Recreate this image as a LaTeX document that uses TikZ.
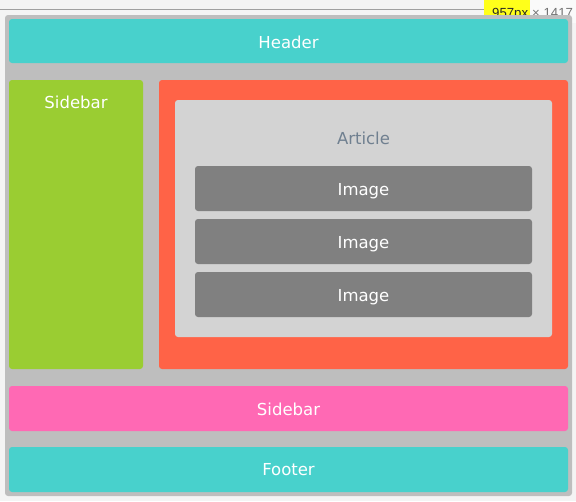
\documentclass[tikz,border=0pt]{standalone}
\usepackage{fontspec}
\setmainfont{DejaVu Sans}
\newfontfamily\badgefont{Liberation Sans}
\definecolor{pagebg}{HTML}{F4F4F4}
\definecolor{outerc}{HTML}{BEBEBE}
\definecolor{headc}{HTML}{48D1CC}
\definecolor{greenc}{HTML}{9ACD32}
\definecolor{tomatoc}{HTML}{FF6347}
\definecolor{articlec}{HTML}{D3D3D3}
\definecolor{imagec}{HTML}{808080}
\definecolor{pinkc}{HTML}{FF69B4}
\definecolor{slatec}{HTML}{708090}
\definecolor{rulec}{HTML}{A0A0A0}
\definecolor{hlc}{HTML}{FFFF1A}
\tikzset{
  panel/.style={rectangle, inner sep=0pt, outer sep=0pt, rounded corners=3pt, anchor=north west},
  lbl/.style={text=white, font=\fontsize{16.5}{18}\selectfont, inner sep=0pt, anchor=base},
}
\begin{document}
\begin{tikzpicture}[x=1pt,y=-1pt]
\useasboundingbox[fill=pagebg] (0,0) rectangle (576,501);
% top rule and dimension badge
\coordinate (ruleL) at (0,9.5);
\coordinate (ruleR) at (484,9.5);
\draw[rulec, line width=1pt] (ruleL) -- (ruleR);
\node[rectangle, fill=white!50!pagebg, inner sep=0pt, minimum width=46pt, minimum height=23pt, anchor=north west] (badgebg) at (530,0) {};
\node[rectangle, fill=hlc, inner sep=0pt, minimum width=46pt, minimum height=23pt, anchor=north west] (badge) at (484,0) {};
\node[anchor=base west, inner sep=0pt, font=\badgefont\fontsize{13.2}{14}\selectfont, text=black!85] (dimw) at (492,17.5) {957px};
\node[anchor=base west, inner sep=0pt, font=\badgefont\fontsize{13.2}{14}\selectfont, text=black!55] (dimh) at (dimw.base east) {\ × 1417};
% outer container
\node[panel, fill=outerc, minimum width=567pt, minimum height=481pt] (outer) at (5,15) {};
% header
\node[panel, fill=headc, minimum width=559pt, minimum height=44pt] (header) at (9,19) {};
\node[lbl] (headerT) at (288.5,48) {Header};
% left sidebar
\node[panel, fill=greenc, minimum width=134pt, minimum height=289pt] (side1) at (9,80) {};
\node[lbl] (side1T) at (76,108.7) {Sidebar};
% main (tomato)
\node[panel, fill=tomatoc, minimum width=409pt, minimum height=289pt] (main) at (159,80) {};
% article
\node[panel, fill=articlec, minimum width=377pt, minimum height=237pt] (article) at (175,100) {};
\node[lbl, text=slatec] (articleT) at (363.5,144.3) {Article};
% images
\node[panel, fill=imagec, minimum width=337pt, minimum height=45pt] (img1) at (195,166) {};
\node[lbl] (img1T) at (363.5,195) {Image};
\node[panel, fill=imagec, minimum width=337pt, minimum height=45pt] (img2) at (195,219) {};
\node[lbl] (img2T) at (363.5,248) {Image};
\node[panel, fill=imagec, minimum width=337pt, minimum height=45pt] (img3) at (195,272) {};
\node[lbl] (img3T) at (363.5,301) {Image};
% bottom sidebar
\node[panel, fill=pinkc, minimum width=559pt, minimum height=45pt] (side2) at (9,386) {};
\node[lbl] (side2T) at (288.5,415.7) {Sidebar};
% footer
\node[panel, fill=headc, minimum width=559pt, minimum height=45pt] (footer) at (9,447) {};
\node[lbl] (footerT) at (288.5,475.7) {Footer};
\end{tikzpicture}
\end{document}
